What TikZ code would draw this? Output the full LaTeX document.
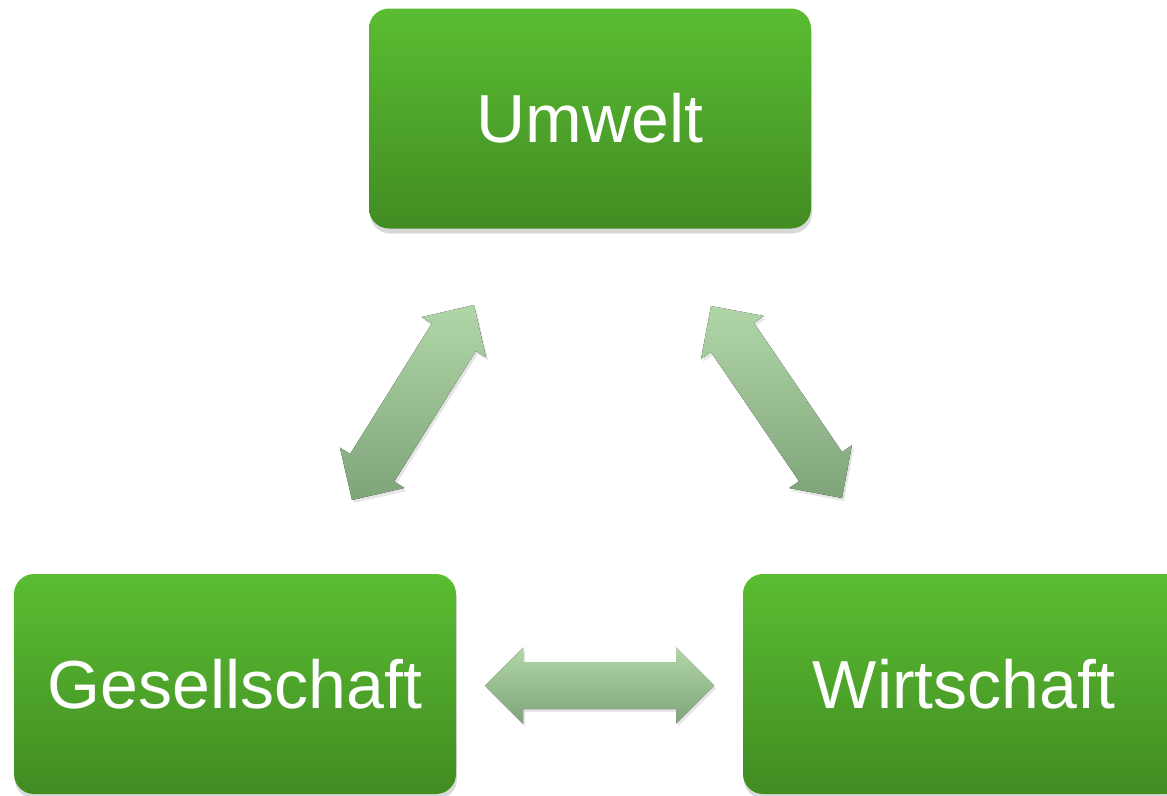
\documentclass[tikz,border=0pt]{standalone}
\usepackage{fontspec}
\setmainfont{Liberation Sans}
\usetikzlibrary{calc, shadows}

\definecolor{boxtop}{RGB}{90,189,50}
\definecolor{boxbottom}{RGB}{66,140,34}
\definecolor{linktop}{RGB}{176,214,168}
\definecolor{linkbottom}{RGB}{128,164,122}

% fat double arrow between two named tips, [#1] = half shaft width
\newcommand{\fatlink}[3][23.5pt]{%
  \fill[link] (#2)
    -- ($(#2)!38pt!(#3)!38pt!90:(#3)$)
    -- ($(#2)!38pt!(#3)!#1!90:(#3)$)
    -- ($(#3)!38pt!(#2)!#1!-90:(#2)$)
    -- ($(#3)!38pt!(#2)!38pt!-90:(#2)$)
    -- (#3)
    -- ($(#3)!38pt!(#2)!38pt!90:(#2)$)
    -- ($(#3)!38pt!(#2)!#1!90:(#2)$)
    -- ($(#2)!38pt!(#3)!#1!-90:(#3)$)
    -- ($(#2)!38pt!(#3)!38pt!-90:(#3)$)
    -- cycle;}

\begin{document}
\begin{tikzpicture}[x=1pt, y=-1pt]
\tikzstyle{pillar} = [rectangle, rounded corners=20pt, minimum width=442pt, minimum height=220pt,
  top color=boxtop, bottom color=boxbottom, text=white, font=\fontsize{68}{80}\selectfont,
  drop shadow={opacity=0.3, shadow xshift=1pt, shadow yshift=-5pt}]
\tikzstyle{link} = [top color=linktop, bottom color=linkbottom,
  drop shadow={opacity=0.2, shadow xshift=2pt, shadow yshift=-3pt}]

\useasboundingbox (0,0) rectangle (1167,795);

% Nodes
\node[pillar] (umwelt) at (590,118.5) {Umwelt};
\node[pillar] (gesell) at (235,684) {Gesellschaft};
\node[pillar] (wirt) at (964,684) {Wirtschaft};

% Arrow tips
\coordinate (ug) at (474,305);
\coordinate (gu) at (352,500);
\coordinate (uw) at (711,306);
\coordinate (wu) at (842,498);
\coordinate (gw) at (485,685.5);
\coordinate (wg) at (714,685.5);

% Arrows
\fatlink[26pt]{ug}{gu}
\fatlink[26pt]{uw}{wu}
\fatlink{gw}{wg}

\end{tikzpicture}
\end{document}
